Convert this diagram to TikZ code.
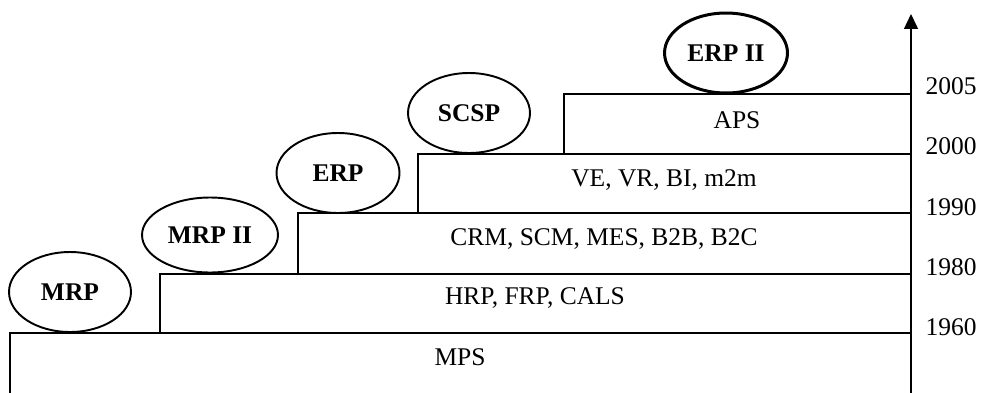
\documentclass[tikz,border=0pt]{standalone}
\usepackage{fontspec}
\setmainfont{Liberation Serif}
\usetikzlibrary{arrows.meta,shapes.geometric}

\begin{document}
\begin{tikzpicture}[x=0.02cm,y=-0.02cm,font=\fontsize{14.5}{17}\selectfont,
  phase/.style={draw,ellipse,line width=1.1pt,inner sep=0pt,font=\fontsize{14.5}{17}\selectfont\bfseries},
  year/.style={inner sep=0pt}]

\useasboundingbox (0,0) rectangle (982,392);

\draw[line width=0.85pt]  (10,333) rectangle (911,400);
\node (v1) at (460,357) {MPS};

\draw[line width=0.85pt]  (160,274) rectangle (911,333);
\node (v2) at (535,298) {HRP, FRP, CALS};

\draw[line width=0.85pt]  (298,213) rectangle (911,274);
\node (v3) at (604,239) {CRM, SCM, MES, B2B, B2C};

\draw[line width=0.85pt]  (418,154) rectangle (911,213);
\node (v4) at (664,180) {VE, VR, BI, m2m};

\draw[line width=0.85pt]  (564,94) rectangle (911,154);
\node (v5) at (737,120) {APS};

\node[phase,minimum width=2.44cm,minimum height=1.6cm] (e1) at (70,292) {MRP};
\node[phase,minimum width=2.72cm,minimum height=1.5cm] (e2) at (210,235) {MRP II};
\node[phase,minimum width=2.46cm,minimum height=1.6cm] (e3) at (338,173) {ERP};
\node[phase,minimum width=2.44cm,minimum height=1.6cm] (e4) at (469,113) {SCSP};
\node[phase,line width=1.7pt,minimum width=2.46cm,minimum height=1.6cm] (e5) at (726,53) {ERP II};

\coordinate (a0) at (911,392);
\coordinate (a1) at (911,14);
\draw[line width=0.85pt,-{Triangle[length=0.3cm,width=0.28cm]}] (a0) -- (a1);

\node[year] (y1) at (951,86) {2005};
\node[year] (y2) at (951,146) {2000};
\node[year] (y3) at (951,207) {1990};
\node[year] (y4) at (951,267) {1980};
\node[year] (y5) at (951,327) {1960};

\end{tikzpicture}
\end{document}
